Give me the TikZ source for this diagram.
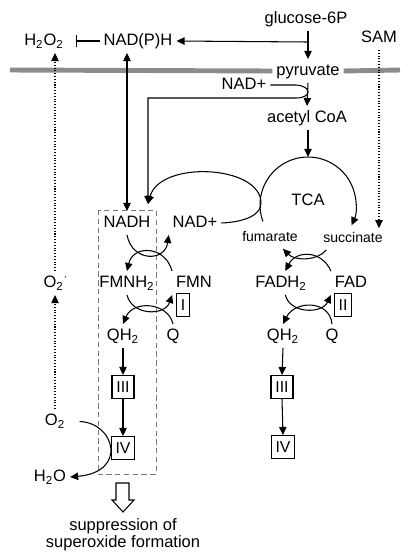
\documentclass[tikz,border=0pt]{standalone}
\usepackage{fontspec}
\setmainfont{Liberation Sans}
\usepackage{tikz}
\usetikzlibrary{arrows.meta}
\definecolor{membranegray}{RGB}{140,140,140}
\definecolor{boxgray}{RGB}{120,120,120}

\begin{document}
\begin{tikzpicture}[x=0.02cm,y=-0.02cm,line width=0.6pt,
  lbl/.style={inner sep=2pt,text height=7pt,text depth=2pt,font=\fontsize{9.4}{11}\selectfont},
  sm/.style={inner sep=2pt,text height=6pt,text depth=1.7pt,font=\fontsize{8}{10}\selectfont},
  cplx/.style={draw,inner xsep=2.2pt,inner ysep=0pt,text height=6.5pt,text depth=0pt,minimum height=13pt,font=\fontsize{9}{10}\selectfont},
  arr/.style={-{Triangle[length=4.6pt,width=4.2pt]}},
  dbl/.style={{Triangle[length=4.6pt,width=4.2pt]}-{Triangle[length=4.6pt,width=4.2pt]}},
  membrane/.style={draw=membranegray,line width=2.8pt},
  dotline/.style={densely dotted,line width=0.6pt,arr}]
\useasboundingbox (0,0) rectangle (400,552);

\node[lbl] (glc) at (306,19) {glucose-6P};
\node[lbl] (pyr) at (308,71) {pyruvate};
\node[lbl] (nadp) at (244,85) {NAD+};
\node[lbl] (acoa) at (307,118) {acetyl CoA};
\node[lbl] (tca) at (308,201) {TCA};
\node[lbl] (sam) at (379,38) {SAM};
\node[lbl] (hoo) at (44,41) {H\textsubscript{2}O\textsubscript{2}};
\node[lbl] (nadph) at (138,41) {NAD(P)H};
\node[lbl] (nadh) at (127,223) {NADH};
\node[lbl] (nadb) at (195,223) {NAD+};
\node[lbl] (fmnh) at (127,283) {FMNH\textsubscript{2}};
\node[lbl] (fmn) at (194,283) {FMN};
\node[cplx] (cI) at (183,305) {I};
\node[lbl] (qa) at (173,336) {Q};
\node[lbl] (qha) at (123,336) {QH\textsubscript{2}};
\node[cplx,minimum width=12.5pt] (cIIIa) at (123,387) {III};
\node[cplx,minimum width=12.5pt] (cIVa) at (123,448) {IV};
\node[lbl] (sox) at (56,283) {O\textsubscript{2}\textsuperscript{·}};
\node[lbl] (oxy) at (55,421) {O\textsubscript{2}};
\node[lbl] (wat) at (50,477) {H\textsubscript{2}O};
\node[sm] (fum) at (270,238) {fumarate};
\node[sm] (suc) at (353,239) {succinate};
\node[lbl] (fadh) at (281,283) {FADH\textsubscript{2}};
\node[lbl] (fad) at (351,283) {FAD};
\node[cplx] (cII) at (343,305) {II};
\node[lbl] (qb) at (332,336) {Q};
\node[lbl] (qhb) at (283,336) {QH\textsubscript{2}};
\node[cplx,minimum width=12.5pt] (cIIIb) at (282,387) {III};
\node[cplx,minimum width=12.5pt] (cIVb) at (283,447) {IV};
\node[lbl] (supa) at (123,526) {suppression of};
\node[lbl] (supb) at (123,543) {superoxide formation};

\coordinate (gj) at (308,42);
\coordinate (nadhin) at (148,204);
\coordinate (tcac) at (308,205);
\coordinate (tcatop) at (308,157);

\draw[membrane] (10,70) -- (pyr.west);
\draw[membrane] (pyr.east) -- (400,70);

\draw[arr] (glc.south -| pyr) -- (pyr.north);
\draw[arr] (gj) -- (nadph.east);
\draw[-{Bar[width=7pt]},shorten >=4.5pt] (nadph.west) -- (hoo.east);
\draw[dbl] (nadph.south -| nadh) -- (nadh.north);
\draw[arr] (pyr.south) -- (acoa.north);
\draw[arr] (nadp.east) -- (296,85) .. controls (312,86) and (312,98) .. (296,98) -- (148,98) -- (nadhin);
\draw[arr] (acoa.south -| tcatop) -- (tcatop);
\draw[arr] (tcac) ++(-200:48) arc[start angle=-200,end angle=25,radius=48];
\draw[arr] (nadb.east) .. controls (245,222) and (261,215) .. (261,203) .. controls (261,165) and (160,160) .. (nadhin);

\draw[densely dashed,boxgray,line width=0.5pt] (98,210) rectangle (156,474);

\draw[arr] (nadh.south) .. controls (132,262) and (165,262) .. (nadb.south west);
\draw[arr] (fmn.north west) .. controls (165,245) and (133,245) .. (fmnh.north);
\draw[arr] (fmnh.south) .. controls (132,316) and (165,316) .. (fmn.south west);
\draw[arr] (qa.north) .. controls (168,302) and (133,300) .. (qha.north);
\draw[arr] (qha.south) -- (cIIIa.north);
\draw[arr] (cIIIa.south) -- (cIVa.north);

\draw[arr] (suc.202) .. controls (318,261) and (295,261) .. (fum.-40);
\draw[arr] (fad.north west) .. controls (322,250) and (296,250) .. (fadh.70);
\draw[arr] (fadh.-70) .. controls (290,314) and (322,314) .. (fad.south west);
\draw[arr] (qb.north) .. controls (330,300) and (295,300) .. (qhb.north);
\draw[arr] (qhb.south) -- (cIIIb.north);
\draw[arr] (cIIIb.south) -- (cIVb.north);

\draw[dotline] (sam.south) -- (suc.north -| sam);
\draw[dotline] (oxy.north) -- (sox.south -| oxy);
\draw[dotline] (sox.north -| oxy) -- (hoo.south -| oxy);
\draw[arr,shorten <=6pt] (oxy.east) .. controls (115,423) and (128,472) .. (wat.east);

\draw[line width=0.6pt] (116,483) -- (129,483) -- (129,500) -- (134,500) -- (123,512) -- (112,500) -- (116,500) -- cycle;
\end{tikzpicture}
\end{document}
